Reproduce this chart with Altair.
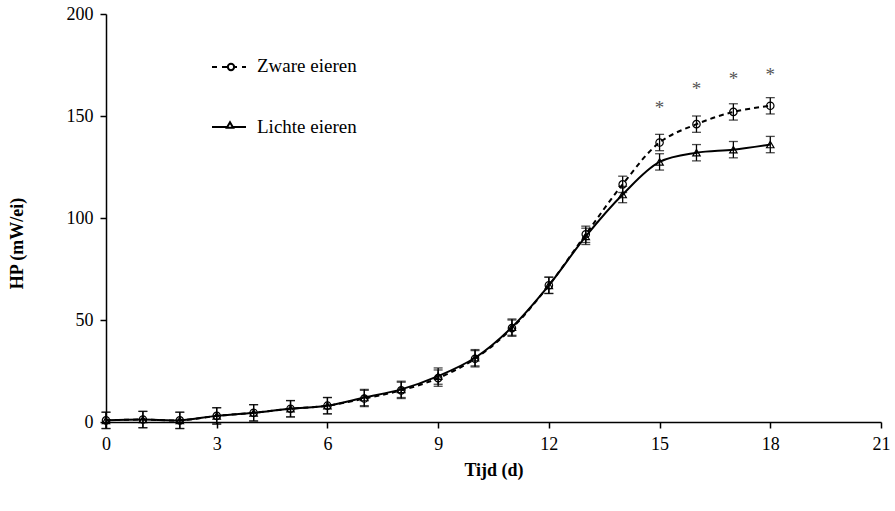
import altair as alt
import pandas as pd

days = list(range(0, 19))
zware = [0.8, 1.2, 0.8, 3.0, 4.5, 6.5, 8.0, 11.5, 15.5, 21.5, 31.0, 46.0, 67.0, 92.0, 116.5, 137.0, 146.0, 152.0, 155.0]
lichte = [0.8, 1.2, 0.8, 3.0, 4.5, 6.5, 8.0, 12.0, 16.0, 22.5, 31.5, 46.5, 67.0, 91.0, 111.5, 127.5, 132.0, 133.5, 136.0]
err_z = [4] * 19
err_l = [4] * 19
star_days = [15, 16, 17, 18]
star_y = [156, 165, 170, 172]

FONT = "Liberation Serif"

rows = []
for d, z, l, ez, el in zip(days, zware, lichte, err_z, err_l):
    rows.append({"d": d, "v": z, "lo": z - ez, "hi": z + ez, "s": "Zware eieren"})
    rows.append({"d": d, "v": l, "lo": l - el, "hi": l + el, "s": "Lichte eieren"})
df = pd.DataFrame(rows)
dz = df[df.s == "Zware eieren"]
dl = df[df.s == "Lichte eieren"]
stars = pd.DataFrame({"d": star_days, "y": star_y})

xs = alt.Scale(domain=[0, 21], nice=False)
ys = alt.Scale(domain=[0, 200], nice=False)
X = alt.X("d:Q", scale=xs, axis=alt.Axis(values=list(range(0, 22, 3)), title="Tijd (d)", grid=False,
                                          tickSize=6, labelFlush=False, labelPadding=7, titlePadding=8))
Y = alt.Y("v:Q", scale=ys, axis=alt.Axis(values=[0, 50, 100, 150, 200], title="HP (mW/ei)", grid=False,
                                          tickSize=6, labelPadding=7, titlePadding=40,
                                          titleY=229, titleAlign="center"))

def series(d, dash, shape):
    base = alt.Chart(d)
    line = base.mark_line(interpolate="catmull-rom", color="black", strokeWidth=2,
                          **({"strokeDash": dash} if dash else {})).encode(x=X, y=Y)
    bars = base.mark_rule(color="black", strokeWidth=1.3).encode(x="d:Q", y="lo:Q", y2="hi:Q")
    caps_lo = base.mark_tick(color="black", orient="horizontal", size=9, thickness=1.3).encode(x="d:Q", y="lo:Q")
    caps_hi = base.mark_tick(color="black", orient="horizontal", size=9, thickness=1.3).encode(x="d:Q", y="hi:Q")
    pts = base.mark_point(shape=shape, filled=False, color="black", size=55, strokeWidth=1.2, opacity=1).encode(x="d:Q", y="v:Q")
    return [line, bars, caps_lo, caps_hi, pts]

layers = series(dl, None, "triangle-up") + series(dz, [5, 4], "circle")

star_layer = alt.Chart(stars).mark_text(text="*", font=FONT, fontSize=19, color="#555", dy=4).encode(
    x="d:Q", y="y:Q")

one = pd.DataFrame({"a": [0]})
leg_z_line = alt.Chart(one).mark_rule(color="black", strokeWidth=2, strokeDash=[5, 5]).encode(
    x=alt.value(106), x2=alt.value(140), y=alt.value(53))
leg_z_pt = alt.Chart(one).mark_point(shape="circle", filled=True, fill="white", stroke="black", size=40, opacity=1).encode(
    x=alt.value(125), y=alt.value(53))
leg_z_txt = alt.Chart(one).mark_text(text="Zware eieren", font=FONT, fontSize=19, align="left",
                                     baseline="middle", color="black").encode(x=alt.value(151), y=alt.value(52))
leg_l_line = alt.Chart(one).mark_rule(color="black", strokeWidth=2).encode(
    x=alt.value(106), x2=alt.value(140), y=alt.value(113))
leg_l_pt = alt.Chart(one).mark_point(shape="triangle-up", filled=True, fill="white", stroke="black", size=40, opacity=1).encode(
    x=alt.value(124), y=alt.value(111))
leg_l_txt = alt.Chart(one).mark_text(text="Lichte eieren", font=FONT, fontSize=19, align="left",
                                     baseline="middle", color="black").encode(x=alt.value(151), y=alt.value(113))

chart = alt.layer(*layers, star_layer, leg_z_line, leg_z_pt, leg_z_txt, leg_l_line, leg_l_pt, leg_l_txt).properties(
    width=775, height=408,
    autosize=alt.AutoSizeParams(type="none"),
    padding={"left": 106, "top": 14, "right": 14, "bottom": 89},
    background="white",
).configure_view(stroke=None).configure_axis(
    domainColor="black", tickColor="black", domainWidth=1.5, tickWidth=1.5,
    labelFont=FONT, titleFont=FONT, labelFontSize=18, titleFontSize=18,
    labelColor="black", titleColor="black", titleFontWeight="bold",
)

chart.save("out.html", embed_options={"renderer": "svg", "actions": False})
